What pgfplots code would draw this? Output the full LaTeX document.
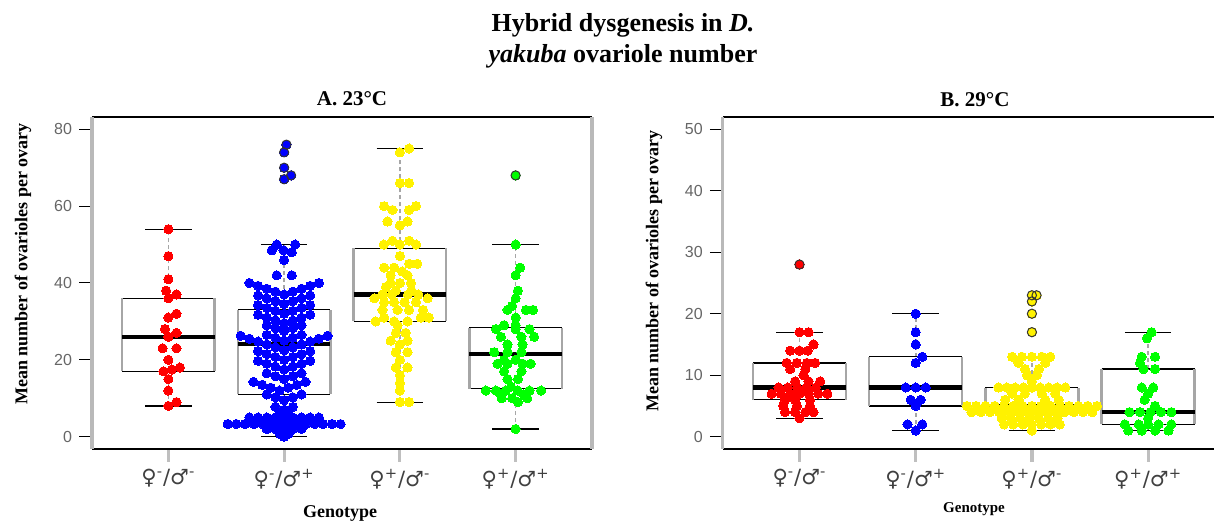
\documentclass[border=0pt]{standalone}
\usepackage{fontspec}
\setmainfont{Liberation Serif}
\setsansfont{Liberation Sans}
\newfontfamily\symf{DejaVu Sans}
\usepackage{pgfplots}
\pgfplotsset{compat=1.18}
\pgfplotsset{
  panel/.style={scale only axis, height=166pt,
    xmin=0.34, xmax=4.66, xtick={1,2,3,4},
    xticklabels={{♀\textsuperscript{-}/♂\textsuperscript{-}},{♀\textsuperscript{-}/♂\textsuperscript{+}},{♀\textsuperscript{+}/♂\textsuperscript{-}},{♀\textsuperscript{+}/♂\textsuperscript{+}}},
    axis line style={draw=none}, tick align=outside, major tick length=6.5pt,
    xtick pos=bottom, ytick pos=left,
    xtick style={draw=gray!50, line width=1.6pt},
    ytick style={draw=black, line width=0.5pt},
    yticklabel style={font=\fontsize{8}{9}\selectfont\sffamily, text=black!60},
    xticklabel style={font=\fontsize{10.5}{12}\selectfont\symf, text=black!75},
    /pgf/number format/assume math mode=true,
    clip=false, unbounded coords=jump},
  pts/.style={only marks, mark=*, mark size=2.3pt, color=#1, mark options={solid, draw=#1, fill=#1, line width=0pt}},
  outl/.style={only marks, mark=o, mark size=2.3pt, color=black!80, mark options={solid, draw=black!80, line width=0.5pt}},
  whisk/.style={gray!70, dash pattern=on 2pt off 1.5pt, line width=0.8pt},
  capl/.style={black, line width=0.6pt},
  boxh/.style={black, line width=0.6pt},
  boxv/.style={gray!70, line width=1.2pt},
  medl/.style={black, line width=2.2pt},
}
\begin{document}
\begin{tikzpicture}
\useasboundingbox (0,0) rectangle (607pt,261.5pt);
% ---------------- Panel A ----------------
\begin{axis}[panel, at={(46pt,37pt)}, anchor=south west, width=250pt,
  ymin=-3.2, ymax=83.2, ytick={0,20,40,60,80}]
\addplot[pts=red] coordinates {(1,54)(1,47)(1,41)(0.98,38)(1.07,37)(1,36)(1.07,32)(1,31)(0.97,28)(1.07,27)(1,26)(0.95,23)(1.07,23)(1,20)(0.957,17)(1.03,17.5)(1.1,18)(1,15)(1,12)(1.07,9)(1,8)};
\addplot[pts=blue] coordinates {
(2.02,76)(2,74)(2,70)(2.06,68)(2,67)
(1.936,50)(2.095,50)(1.893,48.5)(1.995,48.5)(2.066,48)(2,46)(1.936,42)(2.066,42)
(2,37)(1.925,37.75)(2.075,37.75)(1.85,38.5)(2.15,38.5)(1.775,39.25)(2.225,39.25)(1.7,40)(2.3,40)
(2,34.5)(1.925,35.25)(2.075,35.25)(1.85,36)(2.15,36)(1.775,36.75)(2.225,36.75)
(2,32)(1.925,32.75)(2.075,32.75)(1.85,33.5)(2.15,33.5)(1.775,34.25)(2.225,34.25)
(2,29.5)(1.925,30.25)(2.075,30.25)(1.85,31)(2.15,31)(1.775,31.75)(2.225,31.75)
(2,27.5)(1.925,28.25)(2.075,28.25)(1.85,29)(2.15,29)
(2,25)(1.925,25.75)(2.075,25.75)(1.85,26.5)(2.15,26.5)
(2,22.5)(1.925,23.25)(2.075,23.25)(1.85,24)(2.15,24)(1.775,24.75)(2.225,24.75)(1.7,25.5)(2.3,25.5)(1.625,26.25)(2.375,26.25)
(2,20)(1.925,20.75)(2.075,20.75)(1.85,21.5)(2.15,21.5)(1.775,22.25)(2.225,22.25)
(2,17.5)(1.925,18.25)(2.075,18.25)(1.85,19)(2.15,19)(1.775,19.75)(2.225,19.75)
(2,15)(1.925,15.75)(2.075,15.75)(1.85,16.5)(2.15,16.5)
(1.96,12)(1.885,12.75)(2.035,12.75)(1.81,13.5)(2.11,13.5)(1.735,14.25)(2.185,14.25)
(2,9.5)(1.925,10.25)(2.075,10.25)(1.85,11)(2.15,11)
(2,7)(1.925,7.75)(2.075,7.75)(1.9625,6)(2.0375,6)
(1.7,5)(1.775,5)(1.85,5)(1.925,5)(2,5)(2.075,5)(2.15,5)(2.225,5)(2.3,5)
(1.5125,3.3)(1.5875,3.3)(1.6625,3.3)(1.7375,3.3)(1.8125,3.3)(1.8875,3.3)(1.9625,3.3)(2.0375,3.3)(2.1125,3.3)(2.1875,3.3)(2.2625,3.3)(2.3375,3.3)(2.4125,3.3)(2.4875,3.3)
(1.85,2)(1.925,2)(2,2)(2.075,2)(2.15,2)
(1.9625,0.7)(2.0375,0.7)(2,0)};
\addplot[pts=yellow] coordinates {(3.08,75)(3,74)(3,66)(3.08,66)(2.864,60)(3.14,60)(2.936,59)(3.08,59)(2.893,56)(3.066,56)(3,55)(2.936,51)(3.08,51)(2.86,50)(3,50)(3.14,50)(3,47)(2.864,44)(2.95,44)(3.08,45)(3.15,45)(3.02,43)(2.92,42)(3.066,42)(2.92,40)(3,40)(3.095,40)(2.88,39)(2.965,38)(3.1,38)(2.85,37)(2.93,37)(3.07,37)(3.16,37)(2.78,36)(2.864,35)(2.95,35)(3.04,35)(3.14,35)(3.24,36)(2.85,33)(2.98,33)(3.08,33)(3.2,33)(2.79,30)(2.864,31)(2.95,30)(3.066,30)(3.18,31)(3.25,31)(2.98,29)(2.965,27)(3.05,27)(2.92,25)(3.066,25)(3,24)(2.965,22)(3.066,22)(3,20)(2.965,18)(3.066,18)(3,16)(3,14)(3,12)(3,9)(3.08,9)};
\addplot[pts=green] coordinates {(4,68)(4,50)(4.04,44)(4,42)(4.02,38)(4,36)(3.97,34)(3.93,33)(4.09,33)(4.15,33)(4,31)(3.9,29)(4,29)(3.83,28)(4,28)(4.12,28)(4.16,26)(3.873,26)(4.05,26)(3.93,24)(4.06,24)(3.815,22)(3.93,22)(4.05,22)(3.9,20)(4,20)(3.844,19)(3.93,19)(4.06,19)(4.13,19)(3.9,17)(4.05,17)(3.93,15)(4.02,15)(3.96,13)(3.743,12)(3.83,12)(3.916,12)(4.017,12)(4.12,12)(4.22,12)(3.87,11)(4.07,11)(3.88,10)(3.97,10)(4.1,10)(4.02,9)(4,2)};
\addplot[outl] coordinates {(2.02,76)(2,74)(2,70)(2.06,68)(2,67)(4,68)};
% boxplots A
\addplot[whisk] coordinates {(1,36)(1,54)(1,nan)(1,8)(1,17)(2,nan)(2,33)(2,50)(2,nan)(2,0)(2,11)(3,nan)(3,49)(3,75)(3,nan)(3,9)(3,30)(4,nan)(4,28.4)(4,50)(4,nan)(4,2)(4,12.5)};
\addplot[capl] coordinates {(0.8,54)(1.2,54)(1,nan)(0.8,8)(1.2,8)(2,nan)(1.8,50)(2.2,50)(2,nan)(1.8,0)(2.2,0)(3,nan)(2.8,75)(3.2,75)(3,nan)(2.8,9)(3.2,9)(4,nan)(3.8,50)(4.2,50)(4,nan)(3.8,2)(4.2,2)};
\addplot[boxh] coordinates {(0.6,17)(1.4,17)(1,nan)(0.6,36)(1.4,36)(2,nan)(1.6,11)(2.4,11)(2,nan)(1.6,33)(2.4,33)(3,nan)(2.6,30)(3.4,30)(3,nan)(2.6,49)(3.4,49)(4,nan)(3.6,12.5)(4.4,12.5)(4,nan)(3.6,28.4)(4.4,28.4)};
\addplot[boxv] coordinates {(0.6,17)(0.6,36)(1,nan)(1.4,17)(1.4,36)(2,nan)(1.6,11)(1.6,33)(2,nan)(2.4,11)(2.4,33)(3,nan)(2.6,30)(2.6,49)(3,nan)(3.4,30)(3.4,49)(4,nan)(3.6,12.5)(3.6,28.4)(4,nan)(4.4,12.5)(4.4,28.4)};
\addplot[medl] coordinates {(0.6,26)(1.4,26)(1,nan)(1.6,24.2)(2.4,24.2)(2,nan)(2.6,37)(3.4,37)(3,nan)(3.6,21.5)(4.4,21.5)};
\draw[black, line width=0.6pt] (rel axis cs:0,1) -- (rel axis cs:1,1);
\draw[black, line width=0.6pt] (rel axis cs:0,0) -- (rel axis cs:1,0);
\draw[gray!55, line width=1.6pt] (rel axis cs:0,0) -- (rel axis cs:0,1);
\draw[gray!55, line width=1.6pt] (rel axis cs:1,0) -- (rel axis cs:1,1);
\end{axis}
% ---------------- Panel B ----------------
\begin{axis}[panel, at={(361.4pt,37pt)}, anchor=south west, width=251pt,
  ymin=-2, ymax=52, ytick={0,10,20,30,40,50}]
\addplot[pts=red] coordinates {(1,28)(1,17)(1.078,17)(1.12,15)(0.92,14)(1,14)(1.07,14)(0.89,12)(0.977,12)(1.063,12)(1.135,12)(0.92,11)(1.05,11)(1.035,10)(0.962,9)(1.078,9)(1.178,9)(0.82,8)(0.9,8)(0.98,8)(1.06,8)(1.14,8)(0.76,7)(0.84,7)(0.92,7)(1,7)(1.08,7)(1.16,7)(1.24,7)(0.876,6)(0.962,6)(1.09,6)(0.86,5)(0.977,5)(1.09,5)(0.876,4)(0.962,4)(1.05,4)(1.12,4)(1,3)};
\addplot[pts=blue] coordinates {(2,20)(2,17)(2,15)(2.057,13)(2,12)(1.914,8)(2,8)(2.086,8)(1.957,6)(2.043,6)(2,5)(1.93,2)(2.057,2)(2,1)};
\addplot[pts=yellow] coordinates {(3,23)(3.04,23)(3,22)(3,20)(3,17)
(2.83,13)(2.914,13)(3,13)(3.086,13)(3.158,13)(2.885,12)(3.115,12)(2.94,11)(3.06,11)(2.957,10)(3.043,10)(3,9)
(2.712,8)(2.784,8)(2.856,8)(2.928,8)(3,8)(3.072,8)(3.144,8)(3.216,8)(3.288,8)
(2.83,7)(2.94,7)(3.086,7)(3.2,7)(2.77,6)(2.885,6)(3.115,6)(3.23,6)
(2.44,5)(2.52,5)(2.6,5)(2.68,5)(2.76,5)(2.84,5)(2.92,5)(3,5)(3.08,5)(3.16,5)(3.24,5)(3.32,5)(3.4,5)(3.48,5)(3.56,5)
(2.48,4)(2.56,4)(2.64,4)(2.72,4)(2.8,4)(2.88,4)(2.96,4)(3.04,4)(3.12,4)(3.2,4)(3.28,4)(3.36,4)(3.44,4)(3.52,4)
(2.74,3)(2.82,3)(2.9,3)(2.98,3)(3.06,3)(3.14,3)(3.22,3)
(2.76,2)(2.84,2)(2.92,2)(3,2)(3.08,2)(3.16,2)(3.24,2)(3,1)};
\addplot[pts=green] coordinates {(4.03,17)(3.99,16)(3.945,13)(4.06,13)(3.93,12)(3.96,11)(4.06,11)(3.945,8)(4.045,8)(4,7)(3.97,6)(4.06,5)(3.84,4)(3.93,4)(4.02,4)(4.11,4)(4.2,4)(4,3)(3.8,2)(3.92,2)(4,2)(4.09,2)(4.2,2)(3.83,1)(3.945,1)(4.06,1)(4.175,1)};
\addplot[outl] coordinates {(1,28)(3,23)(3.04,23)(3,22)(3,20)(3,17)};
% boxplots B
\addplot[whisk] coordinates {(1,12)(1,17)(1,nan)(1,3)(1,6)(2,nan)(2,13)(2,20)(2,nan)(2,1)(2,5)(3,nan)(3,8)(3,13)(3,nan)(3,1)(3,4)(4,nan)(4,11)(4,17)(4,nan)(4,1)(4,2)};
\addplot[capl] coordinates {(0.8,17)(1.2,17)(1,nan)(0.8,3)(1.2,3)(2,nan)(1.8,20)(2.2,20)(2,nan)(1.8,1)(2.2,1)(3,nan)(2.8,13)(3.2,13)(3,nan)(2.8,1)(3.2,1)(4,nan)(3.8,17)(4.2,17)(4,nan)(3.8,1)(4.2,1)};
\addplot[boxh] coordinates {(0.6,6)(1.4,6)(1,nan)(0.6,12)(1.4,12)(2,nan)(1.6,5)(2.4,5)(2,nan)(1.6,13)(2.4,13)(3,nan)(2.6,4)(3.4,4)(3,nan)(2.6,8)(3.4,8)(4,nan)(3.6,2)(4.4,2)(4,nan)(3.6,11)(4.4,11)};
\addplot[boxv] coordinates {(0.6,6)(0.6,12)(1,nan)(1.4,6)(1.4,12)(2,nan)(1.6,5)(1.6,13)(2,nan)(2.4,5)(2.4,13)(3,nan)(2.6,4)(2.6,8)(3,nan)(3.4,4)(3.4,8)(4,nan)(3.6,2)(3.6,11)(4,nan)(4.4,2)(4.4,11)};
\addplot[medl] coordinates {(0.6,8)(1.4,8)(1,nan)(1.6,8)(2.4,8)(2,nan)(2.6,5)(3.4,5)(3,nan)(3.6,4)(4.4,4)};
\draw[black, line width=0.6pt] (rel axis cs:0,1) -- (rel axis cs:1,1);
\draw[black, line width=0.6pt] (rel axis cs:0,0) -- (rel axis cs:1,0);
\draw[gray!55, line width=1.6pt] (rel axis cs:0,0) -- (rel axis cs:0,1);
\end{axis}
% ---------------- Text ----------------
\node[anchor=base, font=\fontsize{13}{15}\selectfont\bfseries] at (311.5pt,245.5pt) {Hybrid dysgenesis in \textit{D.}};
\node[anchor=base, font=\fontsize{13}{15}\selectfont\bfseries] at (311.5pt,230pt) {\textit{yakuba} ovariole number};
\node[anchor=base, font=\fontsize{10.5}{12}\selectfont\bfseries] at (176pt,208.5pt) {A. 23°C};
\node[anchor=base, font=\fontsize{10.5}{12}\selectfont\bfseries] at (487.5pt,208pt) {B. 29°C};
\node[rotate=90, font=\fontsize{9}{10}\selectfont\bfseries] at (11.5pt,129.5pt) {Mean number of ovarioles per ovary};
\node[rotate=90, font=\fontsize{9}{10}\selectfont\bfseries] at (327pt,126pt) {Mean number of ovarioles per ovary};
\node[anchor=base, font=\fontsize{9}{10}\selectfont\bfseries] at (170pt,2.5pt) {Genotype};
\node[anchor=base, font=\fontsize{7.5}{9}\selectfont\bfseries] at (487pt,5pt) {Genotype};
\end{tikzpicture}
\end{document}
